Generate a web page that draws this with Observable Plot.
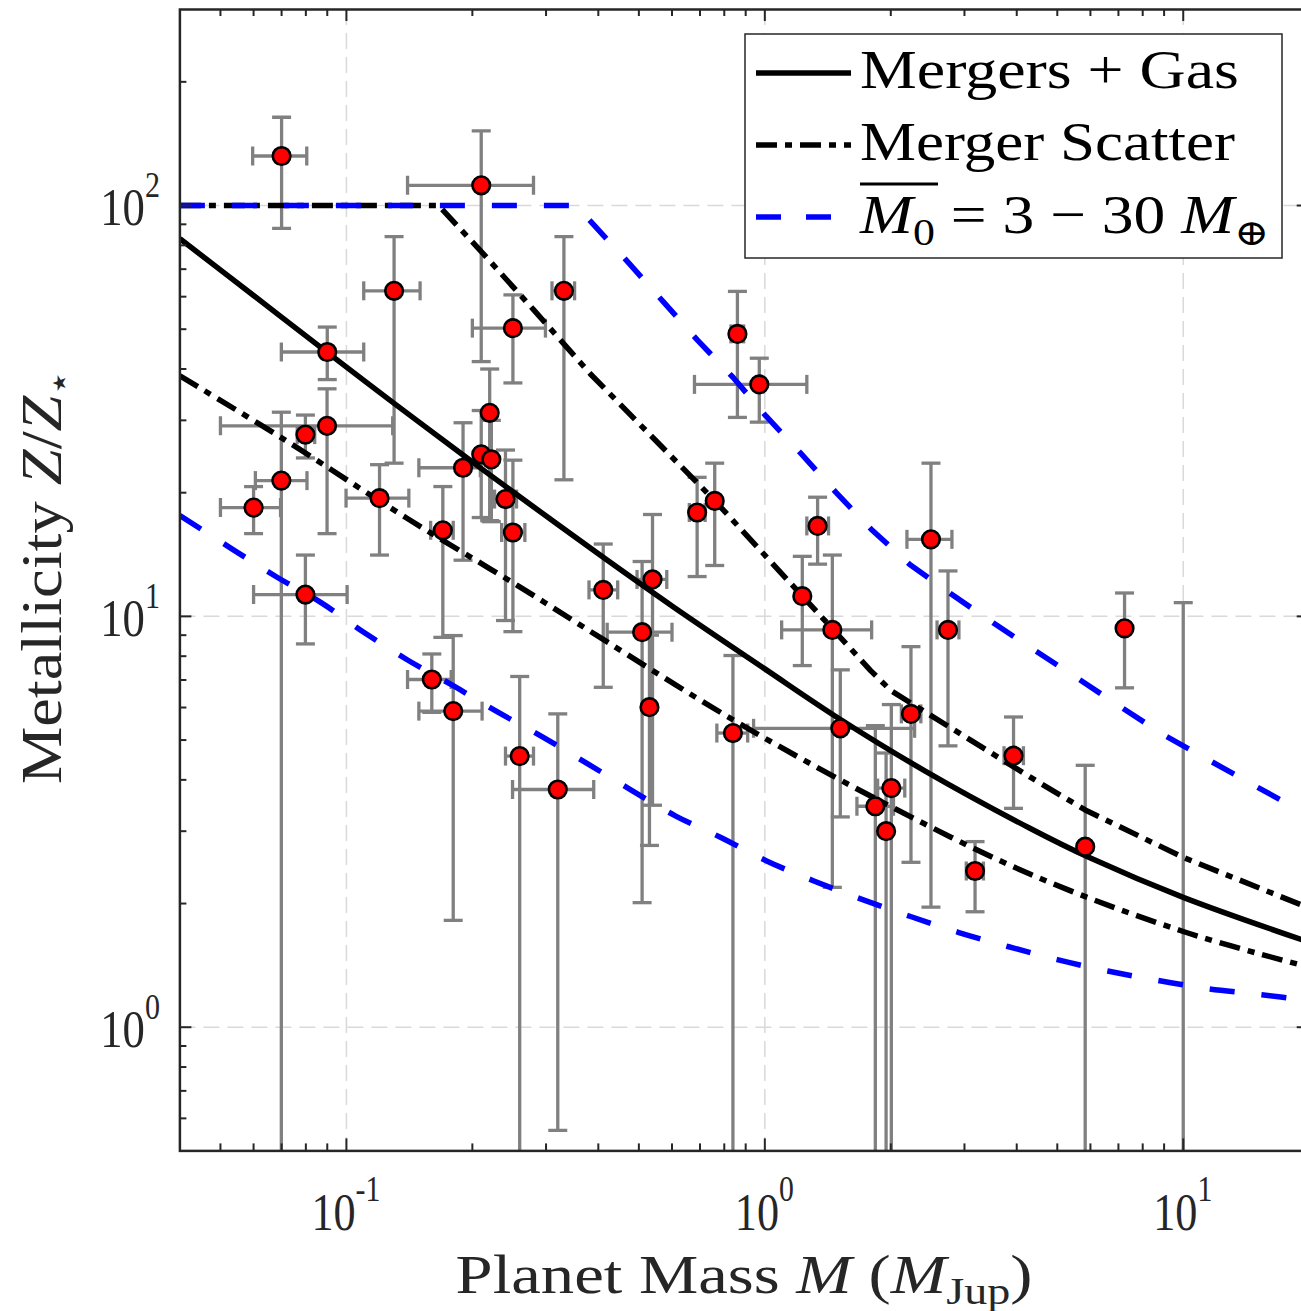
<!DOCTYPE html>
<html>
<head>
<meta charset="utf-8">
<script src="https://cdn.jsdelivr.net/npm/d3@7"></script>
<script src="https://cdn.jsdelivr.net/npm/@observablehq/plot@0.6"></script>
<style>
html, body { margin: 0; padding: 0; background: #fff; overflow: hidden; }
#chart svg { display: block; }
</style>
</head>
<body>
<div id="chart"></div>
<script>
// ---------- data ----------
// planets: mass (M_Jup) with x error range, metallicity Z/Z* with y error range
const massJup   = [0.070, 0.210, 0.090, 0.130, 0.250, 0.331, 0.220, 0.210, 0.222, 0.190, 0.0798, 0.0899, 0.0699, 0.060, 0.0798, 0.120, 0.170, 0.240, 0.250, 0.411, 0.160, 0.180, 0.2595, 0.320, 0.860, 0.970, 0.689, 0.759, 1.337, 2.495, 1.229, 1.45, 2.74, 0.539, 0.509, 0.530, 0.839, 1.515, 1.837, 2.006, 1.949, 2.235, 3.18, 3.93, 5.83, 7.24, 10.0];
const massLow   = [0.0597, 0.140, 0.0699, 0.110, 0.200, 0.310, 0.220, 0.210, 0.222, 0.149, 0.0763, 0.050, 0.0606, 0.050, 0.060, 0.0998, 0.159, 0.226, 0.235, 0.380, 0.140, 0.149, 0.240, 0.2495, 0.830, 0.679, 0.660, 0.759, 1.26, 2.186, 1.229, 1.097, 2.58, 0.495, 0.42, 0.530, 0.768, 0.94, 1.66, 1.86, 1.949, 2.12, 3.03, 3.73, 5.83, 7.24, 10.0];
const massHigh  = [0.0804, 0.280, 0.110, 0.150, 0.299, 0.351, 0.220, 0.210, 0.222, 0.209, 0.084, 0.129, 0.0805, 0.0696, 0.1004, 0.141, 0.180, 0.255, 0.267, 0.445, 0.178, 0.211, 0.280, 0.390, 0.890, 1.26, 0.720, 0.759, 1.42, 2.80, 1.229, 1.80, 2.91, 0.583, 0.60, 0.530, 0.910, 2.28, 2.03, 2.16, 1.949, 2.36, 3.33, 4.15, 5.83, 7.24, 10.0];
const zRatio    = [132, 112, 44, 62, 50.3, 62, 31.3, 24.8, 24.1, 23.0, 27.7, 29.1, 21.4, 18.4, 11.3, 19.4, 16.2, 19.3, 16.0, 11.6, 7.02, 5.88, 4.57, 3.79, 48.7, 36.7, 17.9, 19.1, 16.6, 15.4, 11.2, 9.27, 9.27, 12.3, 9.15, 6.01, 5.20, 5.34, 3.45, 3.82, 3.00, 5.79, 2.40, 4.58, 2.75, 9.35, 0.35];
const zLow      = [88, 41.7, 37.7, 23.6, 37.0, 21.5, 17.1, 17.4, 17.0, 13.7, 24.3, 15.9, 0.1, 15.9, 8.57, 14.1, 8.89, 9.77, 9.18, 6.72, 5.84, 1.82, 0.1, 0.561, 30.5, 29.7, 12.5, 13.3, 13.4, 1.96, 7.59, 2.19, 4.84, 3.47, 2.01, 2.77, 0.1, 3.25, 0.1, 0.1, 0.1, 2.52, 1.91, 3.41, 0.1, 6.70, 0.1];
const zHigh     = [164, 152, 50.6, 84, 60.6, 84, 40.0, 31.7, 30.0, 29.6, 30.9, 35.8, 31.4, 20.7, 14.1, 23.4, 20.7, 25.4, 24.0, 15.0, 8.10, 8.98, 7.14, 5.79, 61.8, 42.5, 21.8, 23.6, 19.5, 23.6, 14.0, 14.1, 12.9, 17.7, 13.6, 9.0, 8.03, 7.41, 5.42, 6.10, 4.65, 8.44, 2.83, 5.69, 4.34, 11.4, 10.8];

// model curves
const gasMass      = [0.04, 0.06, 0.09, 0.13, 0.19, 0.25, 0.4, 0.6, 1.0, 1.5, 2.4, 4.3, 6.0, 10, 20];
const gasZ         = [83, 60.4, 43.9, 33.0, 24.7, 20.1, 14.2, 10.6, 7.45, 5.65, 4.22, 3.05, 2.58, 2.07, 1.61];
const scatLowMass  = [0.04, 0.07, 0.12, 0.16, 0.256, 0.41, 0.84, 1.84, 4.3, 10, 20];
const scatLowZ     = [38.5, 27.2, 19.1, 15.9, 11.9, 8.8, 5.6, 3.6, 2.36, 1.71, 1.40];
const scatHighMass = [0.04, 0.166, 0.209, 0.28, 0.383, 0.76, 1.23, 1.54, 1.79, 2.0, 2.24, 4.31, 5.83, 10, 20];
const scatHighZ    = [100, 100, 77.7, 55.8, 38.9, 19.1, 11.2, 8.73, 7.38, 6.6, 6.14, 4.06, 3.38, 2.59, 1.95];
const m0HighMass   = [0.04, 0.354, 0.475, 0.573, 0.692, 0.839, 1.007, 1.221, 1.481, 1.795, 2.216, 2.80, 3.52, 4.47, 5.67, 7.16, 9.09, 11.6, 14.9, 18.7, 20];
const m0HighZ      = [100, 100, 72.1, 58.2, 46.9, 38.2, 30.7, 24.9, 20.0, 16.3, 13.4, 11.3, 9.63, 8.2, 7.0, 5.98, 5.11, 4.45, 3.86, 3.40, 3.28];
const m0LowMass    = [0.04, 0.0538, 0.0683, 0.087, 0.11, 0.14, 0.18, 0.228, 0.292, 0.374, 0.475, 0.611, 0.783, 1.01, 1.31, 1.70, 2.23, 2.91, 3.83, 5.0, 6.6, 8.7, 11.5, 15.4, 20];
const m0LowZ       = [17.6, 14.5, 12.45, 10.8, 9.15, 7.83, 6.78, 5.88, 5.11, 4.40, 3.80, 3.27, 2.90, 2.54, 2.27, 2.05, 1.86, 1.70, 1.57, 1.46, 1.37, 1.30, 1.24, 1.20, 1.16];

// ticks
const xMajor = [0.1, 1, 10];
const xMinor = [0.05, 0.06, 0.07, 0.08, 0.09, 0.2, 0.3, 0.4, 0.5, 0.6, 0.7, 0.8, 0.9, 2, 3, 4, 5, 6, 7, 8, 9];
const yMajor = [1, 10, 100];
const yMinor = [0.6, 0.7, 0.8, 0.9, 2, 3, 4, 5, 6, 7, 8, 9, 20, 30, 40, 50, 60, 70, 80, 90, 200];
const xTickExp = ["-1", "0", "1"];
const yTickExp = ["0", "1", "2"];

// ---------- layout ----------
const W = 1311, H = 1311;
const mL = 179.4, mR = 2.3, mT = 9, mB = 160.6;
const fw = W - mL - mR, fh = H - mT - mB;
const grey = "#808080", ink = "#262626";
const FONT = "'Liberation Serif', 'DejaVu Serif', serif";

const pts = massJup.map((m, i) => ({x: m, y: zRatio[i], xlo: massLow[i], xhi: massHigh[i], ylo: zLow[i], yhi: zHigh[i]}));
const xErr = pts.filter(d => d.xhi > d.xlo);
const rows = (xs, ys) => xs.map((x, i) => ({x, y: ys[i]}));

const hCap = {draw(ctx, size) { const r = Math.sqrt(size / Math.PI); ctx.moveTo(-r, 0); ctx.lineTo(r, 0); }};
const vCap = {draw(ctx, size) { const r = Math.sqrt(size / Math.PI); ctx.moveTo(0, -r); ctx.lineTo(0, r); }};

const errStyle = {stroke: grey, strokeWidth: 3.3, clip: true};
const capStyle = {r: 9.5, stroke: grey, strokeWidth: 3.3, fill: "none", clip: true};
const curveStyle = {x: "x", y: "y", strokeWidth: 5.5, strokeLinecap: "butt", strokeLinejoin: "round", clip: true};

const plot = Plot.plot({
  width: W, height: H,
  marginLeft: mL, marginRight: mR, marginTop: mT, marginBottom: mB,
  x: {type: "log", domain: [0.04, 20], axis: null},
  y: {type: "log", domain: [0.5, 300], axis: null},
  marks: [
    // grid
    Plot.ruleX(xMajor, {x: d => d, stroke: "#d9d9d9", strokeWidth: 1.5, strokeDasharray: "16,8"}),
    Plot.ruleY(yMajor, {y: d => d, stroke: "#d9d9d9", strokeWidth: 1.5, strokeDasharray: "16,8"}),
    // error bars
    Plot.ruleX(pts, {x: "x", y1: "ylo", y2: "yhi", ...errStyle}),
    Plot.dot(pts, {x: "x", y: "ylo", symbol: hCap, ...capStyle}),
    Plot.dot(pts, {x: "x", y: "yhi", symbol: hCap, ...capStyle}),
    Plot.ruleY(xErr, {y: "y", x1: "xlo", x2: "xhi", ...errStyle}),
    Plot.dot(xErr, {x: "xlo", y: "y", symbol: vCap, ...capStyle}),
    Plot.dot(xErr, {x: "xhi", y: "y", symbol: vCap, ...capStyle}),
    // model curves
    Plot.line(rows(gasMass, gasZ), {...curveStyle, stroke: "#000", curve: "catmull-rom"}),
    Plot.line(rows(scatLowMass, scatLowZ), {...curveStyle, stroke: "#000", curve: "catmull-rom", strokeDasharray: "21,8,7,8"}),
    Plot.line(rows(scatHighMass, scatHighZ), {...curveStyle, stroke: "#000", curve: "linear", strokeDasharray: "21,8,7,8"}),
    Plot.line(rows(m0LowMass, m0LowZ), {...curveStyle, stroke: "#0000ff", curve: "catmull-rom", strokeDasharray: "25,27"}),
    Plot.line(rows(m0HighMass, m0HighZ), {...curveStyle, stroke: "#0000ff", curve: "linear", strokeDasharray: "25,27"}),
    // planets
    Plot.dot(pts, {x: "x", y: "y", r: 8.8, fill: "#ff0000", stroke: "#000", strokeWidth: 2.6, clip: true}),
    // inward ticks
    Plot.tickX(xMajor, {x: d => d, insetTop: fh - 12, stroke: ink, strokeWidth: 2}),
    Plot.tickX(xMajor, {x: d => d, insetBottom: fh - 12, stroke: ink, strokeWidth: 2}),
    Plot.tickX(xMinor, {x: d => d, insetTop: fh - 7, stroke: ink, strokeWidth: 2}),
    Plot.tickX(xMinor, {x: d => d, insetBottom: fh - 7, stroke: ink, strokeWidth: 2}),
    Plot.tickY(yMajor, {y: d => d, insetRight: fw - 12, stroke: ink, strokeWidth: 2}),
    Plot.tickY(yMajor, {y: d => d, insetLeft: fw - 12, stroke: ink, strokeWidth: 2}),
    Plot.tickY(yMinor, {y: d => d, insetRight: fw - 7, stroke: ink, strokeWidth: 2}),
    Plot.tickY(yMinor, {y: d => d, insetLeft: fw - 7, stroke: ink, strokeWidth: 2}),
    Plot.frame({stroke: ink, strokeWidth: 2.5})
  ]
});
plot.style.maxWidth = "none";
plot.style.width = W + "px";
plot.style.height = H + "px";
plot.style.background = "#fff";
document.getElementById("chart").append(plot);

// library scales
function scaleFn(name) {
  const s = plot.scale(name);
  if (s && typeof s.apply === "function") return v => s.apply(v);
  const d = d3.scaleLog().domain(s.domain).range(s.range);
  return v => d(v);
}
const sx = scaleFn("x"), sy = scaleFn("y");
const svg = d3.select(plot);

// rich text helper
function rich(parent, {x, y, rotate = 0, anchor = "start", size, width, scale, fill = ink, parts}) {
  const g = parent.append("g").attr("transform", `translate(${x},${y}) rotate(${rotate})`);
  const inner = g.append("g");
  const t = inner.append("text").attr("font-family", FONT).attr("font-size", size)
    .attr("text-anchor", anchor).attr("fill", fill);
  let shift = 0;
  for (const p of parts) {
    const ts = t.append("tspan").text(p.t).attr("font-size", p.size || size);
    if (p.italic) ts.attr("font-style", "italic");
    const target = p.dy || 0;
    if (target !== shift) { ts.attr("dy", target - shift); shift = target; }
  }
  let k = scale || 1;
  if (width) k = width / t.node().getComputedTextLength();
  inner.attr("transform", `scale(${k},1)`);
  return t;
}

// tick labels
xMajor.forEach((v, i) => rich(svg, {x: sx(v), y: 1230, anchor: "middle", size: 52, scale: 0.85,
  parts: [{t: "10"}, {t: xTickExp[i], size: 35, dy: -29}]}));
yMajor.forEach((v, i) => rich(svg, {x: 160, y: sy(v) + 20, anchor: "end", size: 52, scale: 0.86,
  parts: [{t: "10"}, {t: yTickExp[i], size: 35, dy: -28}]}));

// axis labels
rich(svg, {x: (mL + W - mR) / 2, y: 1293, anchor: "middle", size: 55, width: 577,
  parts: [{t: "Planet Mass "}, {t: "M", italic: true}, {t: " ("}, {t: "M", italic: true},
          {t: "Jup", size: 38, dy: 11}, {t: ")", dy: 0}]});
rich(svg, {x: 61, y: 577, rotate: -90, anchor: "middle", size: 56, width: 415,
  parts: [{t: "Metallicity "}, {t: "Z", italic: true}, {t: "/"}, {t: "Z", italic: true},
          {t: "⋆", size: 36, dy: 10}]});

// legend
const lg = svg.append("g");
lg.append("rect").attr("x", 745).attr("y", 34).attr("width", 537).attr("height", 224)
  .attr("fill", "#fff").attr("stroke", ink).attr("stroke-width", 1.5);
const legendRows = [
  {y: 73, stroke: "#000", dash: null},
  {y: 145, stroke: "#000", dash: "21,8,7,8"},
  {y: 217, stroke: "#0000ff", dash: "25,25"}
];
legendRows.forEach(r => {
  const l = lg.append("line").attr("x1", 756).attr("x2", 851).attr("y1", r.y).attr("y2", r.y)
    .attr("stroke", r.stroke).attr("stroke-width", 5.5);
  if (r.dash) l.attr("stroke-dasharray", r.dash);
});
rich(lg, {x: 860, y: 88, size: 55, width: 379, fill: "#000", parts: [{t: "Mergers + Gas"}]});
rich(lg, {x: 860, y: 160, size: 55, width: 375, fill: "#000", parts: [{t: "Merger Scatter"}]});
rich(lg, {x: 860, y: 233, size: 55, width: 409, fill: "#000",
  parts: [{t: "M", italic: true}, {t: "0", size: 38, dy: 12}, {t: " = 3 − 30 ", dy: 0},
          {t: "M", italic: true}, {t: "⊕", size: 36, dy: 12}]});
lg.append("line").attr("x1", 860).attr("x2", 938).attr("y1", 184).attr("y2", 184)
  .attr("stroke", "#000").attr("stroke-width", 3);
</script>
</body>
</html>
